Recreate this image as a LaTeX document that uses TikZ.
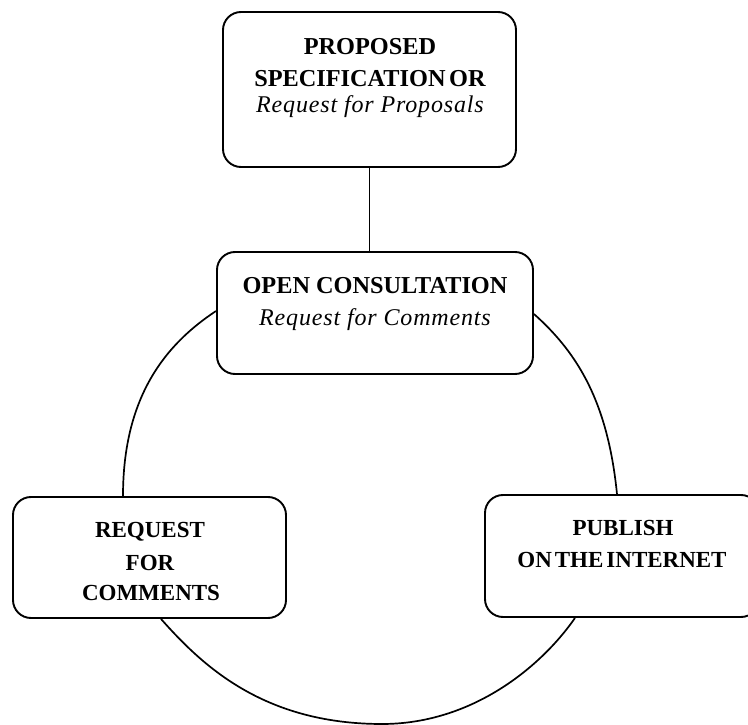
\documentclass[tikz,border=0pt]{standalone}
\usepackage{fontspec}
\setmainfont{Liberation Serif}
\usetikzlibrary{calc}
\begin{document}
\begin{tikzpicture}[x=1pt,y=-1pt,
  box/.style={draw, line width=1.9pt, rounded corners=18pt, inner sep=0pt},
  bt/.style={font=\fontsize{24.3}{24.3}\selectfont\bfseries, anchor=base, inner sep=0pt},
  bts/.style={font=\fontsize{23}{23}\selectfont\bfseries, anchor=base, inner sep=0pt},
  it/.style={font=\fontsize{24}{24}\selectfont\itshape\addfontfeature{LetterSpace=3.5}, anchor=base, inner sep=0pt},
  link/.style={line width=1.7pt}]
\useasboundingbox (0,0) rectangle (748,725);
\clip (0,0) rectangle (748,725);
% boxes
\node[box, minimum width=293pt, minimum height=155pt] (top) at (369.5,89.5) {};
\node[box, minimum width=316pt, minimum height=122pt] (mid) at (375,313) {};
\node[box, minimum width=273pt, minimum height=121pt] (left) at (149.5,557.5) {};
\node[box, minimum width=274pt, minimum height=122pt] (right) at (622,556) {};
% texts
\node[bt] (t1) at (370,55) {PROPOSED};
\node[bt] (t2) at (370,87) {SPECIFICATION\hspace{0.15em}OR};
\node[it] (t3) at (370,113) {Request for Proposals};
\node[bt] (m1) at (375,293) {OPEN CONSULTATION};
\node[it] (m2) at (375,325) {Request for Comments};
\node[bts] (l1) at (150,537) {REQUEST};
\node[bts] (l2) at (150,570) {FOR};
\node[bts] (l3) at (151,600) {COMMENTS};
\node[bts] (r1) at (623,535) {PUBLISH};
\node[bts] (r2) at (622,567) {ON\hspace{0.13em}THE\hspace{0.13em}INTERNET};
% connectors
\draw[link] (top.south) -- (top.south |- mid.north);
\draw[link] ($(mid.west)+(0,-2)$) .. controls +(-50,33) and +(0,-100) .. ($(left.north)+(-26.5,0)$);
\draw[link] ($(mid.east)+(0,1)$) .. controls +(45,40) and +(-9,-90) .. ($(right.north)+(-5,0)$);
\coordinate (bot) at (382,724);
\draw[link] ($(left.south)+(11.5,0)$) .. controls +(40,45) and +(-120,0) .. (bot)
  .. controls +(90,0) and +(-34,49) .. ($(right.south)+(-47,0)$);
\end{tikzpicture}
\end{document}
